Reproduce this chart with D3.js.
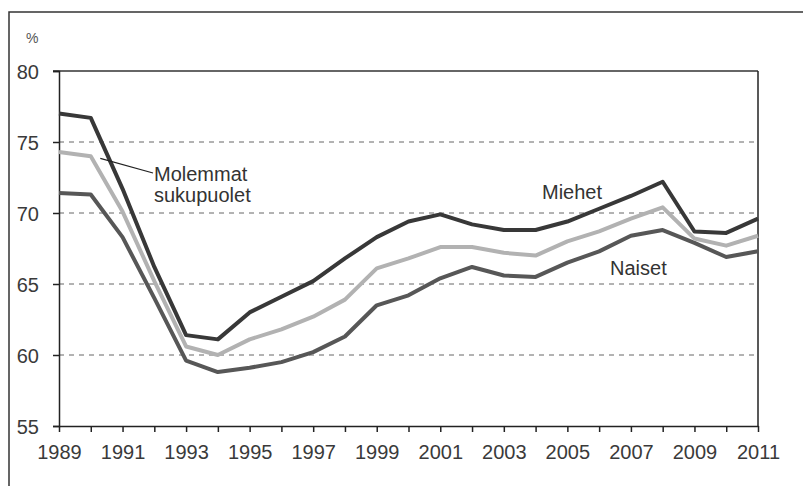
<!DOCTYPE html>
<html><head><meta charset="utf-8">
<script src="https://cdn.jsdelivr.net/npm/d3@7"></script>
<style>body{margin:0;background:#fff}svg{display:block}text{font-family:"Liberation Sans",Arial,sans-serif;fill:#333}</style>
</head><body>
<svg id="c" width="803" height="486"></svg>
<script>
const years = d3.range(1989, 2012);
const miehet = [77.0,76.7,71.7,66.2,61.4,61.1,63.0,64.1,65.2,66.8,68.3,69.4,69.9,69.2,68.8,68.8,69.4,70.3,71.2,72.2,68.7,68.6,69.6];
const naiset = [71.4,71.3,68.3,64.0,59.6,58.8,59.1,59.5,60.2,61.3,63.5,64.2,65.4,66.2,65.6,65.5,66.5,67.3,68.4,68.8,67.9,66.9,67.3];
const molemmat = [74.3,74.0,70.1,65.2,60.6,60.0,61.1,61.8,62.7,63.9,66.1,66.8,67.6,67.6,67.2,67.0,68.0,68.7,69.6,70.4,68.2,67.7,68.4];
const yTicks = [55,60,65,70,75,80];
const xTickLabels = [1989,1991,1993,1995,1997,1999,2001,2003,2005,2007,2009,2011];

const svg = d3.select("#c");
const x = d3.scaleLinear().domain([1989,2011]).range([59,758]);
const y = d3.scaleLinear().domain([55,80]).range([426,71]);

// outer frame (left and top visible)
svg.append("path").attr("d","M9,486V12H803").attr("fill","none").attr("stroke","#333").attr("stroke-width",1.5);

svg.append("text").attr("x",26).attr("y",43).attr("font-size",14).style("fill","#555").text("%");

// gridlines
const g = svg.append("g");
g.selectAll("line.grid").data(yTicks.filter(v=>v>55 && v<80)).join("line")
  .attr("x1",x(1989)).attr("x2",x(2011)).attr("y1",d=>y(d)).attr("y2",d=>y(d))
  .attr("stroke","#666").attr("stroke-width",1).attr("stroke-dasharray","5,5");
g.append("line").attr("x1",x(1989)-6).attr("x2",x(2011)).attr("y1",y(80)).attr("y2",y(80))
  .attr("stroke","#333").attr("stroke-width",1.5);

// axes
const yAxis = d3.axisLeft(y).tickValues(yTicks).tickSize(6).tickPadding(14);
const ya = svg.append("g").attr("transform",`translate(${x(1989)},0)`).call(yAxis);
ya.select(".domain").attr("stroke","#222").attr("stroke-width",1.5);
ya.selectAll(".tick line").attr("stroke","#222").attr("stroke-width",1.5);
ya.selectAll(".tick text").attr("font-size",20).style("fill","#3a3a3a").attr("dy","0.36em");

const xAxis = d3.axisBottom(x).tickValues(years).tickSize(6).tickSizeOuter(0)
  .tickFormat(d=>xTickLabels.includes(d)?String(d):"").tickPadding(13);
const xa = svg.append("g").attr("transform",`translate(0,${y(55)})`).call(xAxis);
xa.select(".domain").attr("stroke","#222").attr("stroke-width",1.5);
xa.selectAll(".tick line").attr("stroke","#222").attr("stroke-width",1.5);
xa.selectAll(".tick text").attr("font-size",20).style("fill","#3a3a3a");

// right frame
svg.append("line").attr("x1",x(2011)).attr("x2",x(2011)).attr("y1",y(80)).attr("y2",y(55))
  .attr("stroke","#222").attr("stroke-width",1.5);

// lines
const line = d3.line().x((d,i)=>x(years[i])).y(d=>y(d));
[[naiset,"#575757"],[miehet,"#383838"],[molemmat,"#b2b2b2"]].forEach(([data,col])=>{
  svg.append("path").datum(data).attr("d",line).attr("fill","none")
    .attr("stroke",col).attr("stroke-width",4).attr("stroke-linejoin","round");
});

// annotations
svg.append("line").attr("x1",x(1990.3)).attr("y1",y(73.85)).attr("x2",153).attr("y2",173)
  .attr("stroke","#222").attr("stroke-width",1.2);
svg.append("text").attr("x",154).attr("y",181).attr("font-size",20).text("Molemmat");
svg.append("text").attr("x",154).attr("y",202).attr("font-size",20).text("sukupuolet");
svg.append("text").attr("x",542).attr("y",199).attr("font-size",20).text("Miehet");
svg.append("text").attr("x",610).attr("y",275).attr("font-size",20).text("Naiset");
</script>
</body></html>
